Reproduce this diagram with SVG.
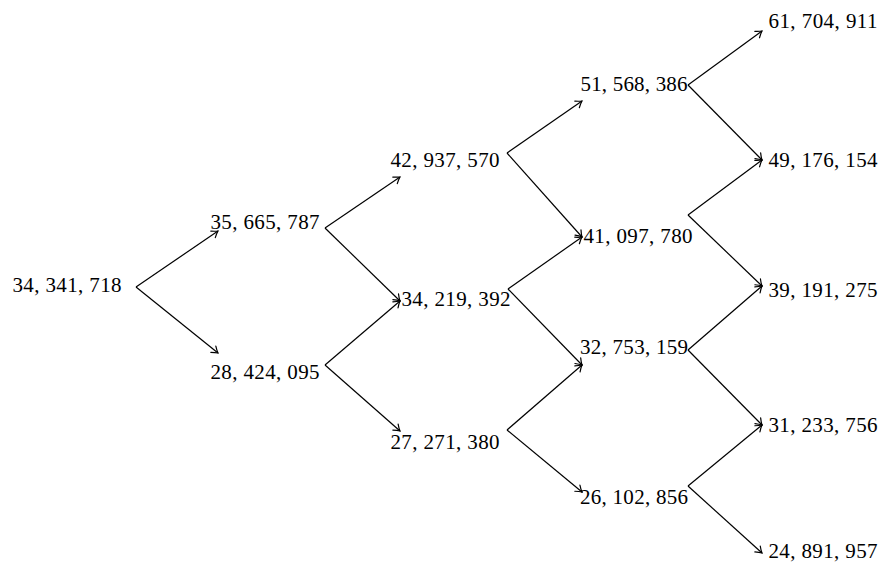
<svg xmlns="http://www.w3.org/2000/svg" width="882" height="565" viewBox="0 0 882 565">
<defs>
<style>
text{font-family:"Liberation Serif","DejaVu Serif",serif;font-size:21px;fill:#000;text-anchor:middle}
.e{stroke:#000;stroke-width:1.2;fill:none;marker-end:url(#a)}
</style>
<marker id="a" markerUnits="userSpaceOnUse" markerWidth="14" markerHeight="14" viewBox="-7 -7 14 14" refX="0" refY="0" orient="auto">
<path d="M-6,-4 Q-2.5,-1.2 0,0 Q-2.5,1.2 -6,4" fill="none" stroke="#000" stroke-width="1.2" stroke-linecap="round"/>
</marker>
</defs>
<rect width="882" height="565" fill="#fff"/>
<g id="connectors">
<line class="e" x1="136" y1="287" x2="218" y2="231"/>
<line class="e" x1="136" y1="287" x2="218" y2="353"/>
<line class="e" x1="325" y1="228" x2="400" y2="177"/>
<line class="e" x1="325" y1="228" x2="400" y2="301"/>
<line class="e" x1="325" y1="365" x2="400" y2="301"/>
<line class="e" x1="325" y1="365" x2="400" y2="431"/>
<line class="e" x1="507" y1="153" x2="582" y2="101"/>
<line class="e" x1="507" y1="153" x2="582" y2="237"/>
<line class="e" x1="508" y1="289" x2="582" y2="237"/>
<line class="e" x1="508" y1="289" x2="582" y2="365"/>
<line class="e" x1="507" y1="430" x2="582" y2="365"/>
<line class="e" x1="507" y1="430" x2="582" y2="492"/>
<line class="e" x1="688" y1="85" x2="762" y2="31"/>
<line class="e" x1="688" y1="85" x2="762" y2="160"/>
<line class="e" x1="688" y1="215" x2="762" y2="160"/>
<line class="e" x1="688" y1="215" x2="762" y2="286"/>
<line class="e" x1="688" y1="350" x2="762" y2="286"/>
<line class="e" x1="688" y1="350" x2="762" y2="425"/>
<line class="e" x1="688" y1="486" x2="762" y2="425"/>
<line class="e" x1="688" y1="486" x2="762" y2="553"/>
</g>
<g id="n0"><text x="67" y="292" textLength="109">34, 341, 718</text></g>
<g id="n1a"><text x="265" y="229" textLength="109">35, 665, 787</text></g>
<g id="n1b"><text x="265" y="379" textLength="109">28, 424, 095</text></g>
<g id="n2a"><text x="445" y="167" textLength="109">42, 937, 570</text></g>
<g id="n2b"><text x="456" y="306" textLength="109">34, 219, 392</text></g>
<g id="n2c"><text x="445" y="449" textLength="109">27, 271, 380</text></g>
<g id="n3a"><text x="634" y="91" textLength="107">51, 568, 386</text></g>
<g id="n3b"><text x="638" y="243" textLength="109">41, 097, 780</text></g>
<g id="n3c"><text x="634" y="354" textLength="108">32, 753, 159</text></g>
<g id="n3d"><text x="634" y="504" textLength="108">26, 102, 856</text></g>
<g id="n4a"><text x="823" y="28" textLength="109">61, 704, 911</text></g>
<g id="n4b"><text x="823" y="167" textLength="109">49, 176, 154</text></g>
<g id="n4c"><text x="823" y="297" textLength="109">39, 191, 275</text></g>
<g id="n4d"><text x="823" y="432" textLength="109">31, 233, 756</text></g>
<g id="n4e"><text x="823" y="558" textLength="109">24, 891, 957</text></g>
</svg>
